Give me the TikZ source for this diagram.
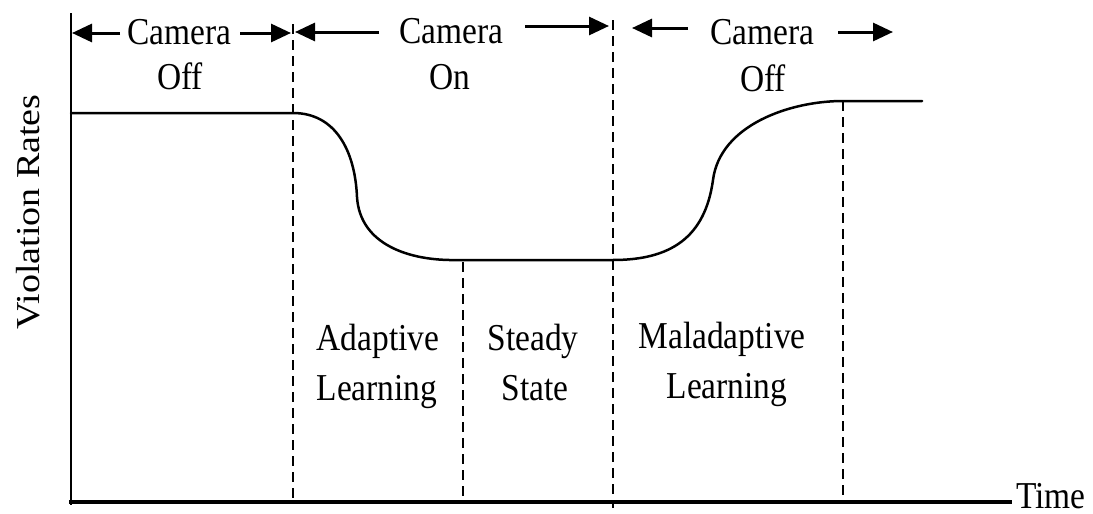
\documentclass[tikz,border=0pt]{standalone}
\usepackage{fontspec}
\setmainfont{Liberation Serif}[FakeStretch=0.88]
\newfontfamily\vfont{Liberation Serif}
\usetikzlibrary{arrows.meta}
\begin{document}
\begin{tikzpicture}[x=1pt,y=-1pt,
  lbl/.style={inner sep=0pt,anchor=base,font=\fontsize{38}{48}\selectfont},
  curve/.style={line width=2.5pt,line cap=round},
  phase/.style={line width=1.6pt,dash pattern=on 10pt off 6pt},
  span/.style={line width=3pt,-{Triangle[length=20pt,width=18pt]}}]
\useasboundingbox (0,0) rectangle (1093,514);
% axes
\coordinate (ytop) at (71,13);
\coordinate (ybot) at (71,505);
\coordinate (xleft) at (69,502);
\coordinate (xright) at (1012,502);
\draw[line width=2pt] (ytop) -- (ybot);
\draw[line width=3.4pt] (xleft) -- (xright);
\node[lbl] (time) at (1051,508) {Time};
\node[inner sep=0pt,anchor=base,rotate=90] (vr) at (39,212)
  {\scalebox{1}[0.88]{\vfont\fontsize{38}{48}\selectfont Violation Rates}};
% phase boundaries
\coordinate (d1t) at (293,24); \coordinate (d1b) at (293,498);
\coordinate (d2t) at (463,262); \coordinate (d2b) at (463,498);
\coordinate (d3t) at (613,20); \coordinate (d3b) at (613,508);
\coordinate (d4t) at (843,101); \coordinate (d4b) at (843,498);
\draw[phase] (d1t) -- (d1b);
\draw[phase] (d2t) -- (d2b);
\draw[phase] (d3t) -- (d3b);
\draw[phase] (d4t) -- (d4b);
% violation curve
\coordinate (c0) at (71,113);
\coordinate (c1) at (293,113);
\coordinate (c2) at (357,197);
\coordinate (c3) at (457,260);
\coordinate (c4) at (613,260);
\coordinate (c5) at (713,180);
\coordinate (c6) at (843,101);
\coordinate (c7) at (922,101);
\draw[curve] (c0) -- (c1)
  .. controls (335,113) and (355,150) .. (c2)
  .. controls (360,245) and (410,261) .. (c3)
  -- (c4)
  .. controls (670,260) and (705,238) .. (c5)
  .. controls (720,125) and (790,101) .. (c6)
  -- (c7);
% top labels
\node[lbl] (cam1) at (179,45) {Camera};
\node[lbl] (off1) at (180,89) {Off};
\node[lbl] (cam2) at (451,43) {Camera};
\node[lbl] (on2) at (450,89) {On};
\node[lbl] (cam3) at (762,45) {Camera};
\node[lbl] (off3) at (763,91) {Off};
% span arrows
\coordinate (a1l) at (120,33); \coordinate (a1lt) at (72,33);
\coordinate (a1r) at (240,33); \coordinate (a1rt) at (291,33);
\coordinate (a2l) at (379,32); \coordinate (a2lt) at (295,32);
\coordinate (a2r) at (525,26); \coordinate (a2rt) at (609,26);
\coordinate (a3l) at (688,28); \coordinate (a3lt) at (632,28);
\coordinate (a3r) at (838,32); \coordinate (a3rt) at (893,32);
\draw[span] (a1l) -- (a1lt);
\draw[span] (a1r) -- (a1rt);
\draw[span] (a2l) -- (a2lt);
\draw[span] (a2r) -- (a2rt);
\draw[span] (a3l) -- (a3lt);
\draw[span] (a3r) -- (a3rt);
% phase labels
\node[lbl] (ad1) at (378,350) {Adaptive};
\node[lbl] (ad2) at (377,400) {Learning};
\node[lbl] (st1) at (533,350) {Steady};
\node[lbl] (st2) at (535,400) {State};
\node[lbl] (ma1) at (722,348) {Maladaptive};
\node[lbl] (ma2) at (727,398) {Learning};
\end{tikzpicture}
\end{document}
